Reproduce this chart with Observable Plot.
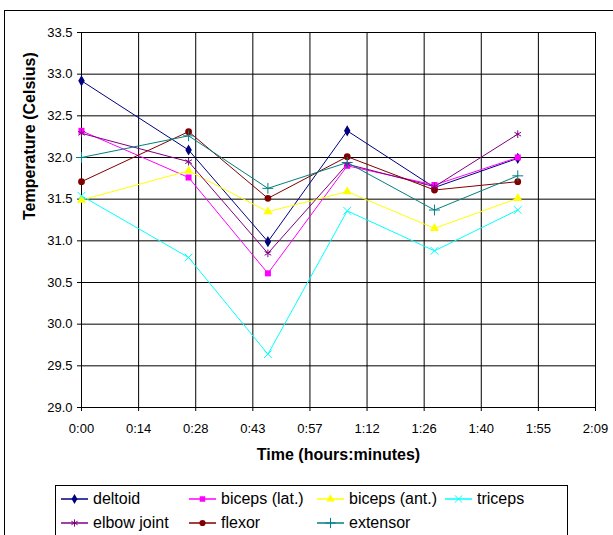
<!DOCTYPE html>
<html><head><meta charset="utf-8">
<script src="https://cdn.jsdelivr.net/npm/d3@7"></script>
<script src="https://cdn.jsdelivr.net/npm/@observablehq/plot@0.6"></script>
<style>
html,body{margin:0;padding:0;background:#fff;width:613px;height:535px;overflow:hidden;position:relative;font-family:"Liberation Sans",Arial,sans-serif;}
#frame{position:absolute;left:4px;top:10px;width:700px;height:600px;border:1px solid #000;box-sizing:border-box;}
#chart{position:absolute;left:0;top:0;}
#legend{position:absolute;left:55px;top:485px;width:513px;height:80px;border:1px solid #000;box-sizing:border-box;background:#fff;}
.item{position:absolute;height:24px;display:flex;align-items:center;font-size:16px;color:#000;white-space:nowrap;}
.item svg{margin-right:4px;}
</style>
</head><body>
<div id="frame"></div>
<div id="chart"></div>
<div id="legend"></div>
<script>
const seriesNames = ["deltoid","biceps (lat.)","biceps (ant.)","triceps","elbow joint","flexor","extensor"];
const timesMin = [0, 27, 47, 67, 89, 110];
const deltoid    = [32.92, 32.09, 30.99, 32.32, 31.64, 31.99];
const bicepsLat  = [32.32, 31.76, 30.61, 31.90, 31.67, 32.00];
const bicepsAnt  = [31.49, 31.84, 31.35, 31.59, 31.15, 31.51];
const triceps    = [31.54, 30.80, 29.64, 31.36, 30.88, 31.37];
const elbowJoint = [32.29, 31.95, 30.85, 31.92, 31.65, 32.28];
const flexor     = [31.71, 32.31, 31.51, 32.01, 31.61, 31.71];
const extensor   = [32.00, 32.26, 31.63, 31.94, 31.37, 31.78];
const seriesValues = [deltoid, bicepsLat, bicepsAnt, triceps, elbowJoint, flexor, extensor];
const colors  = ["#000080","#FF00FF","#FFFF00","#00FFFF","#800080","#800000","#008080"];
const symbols = ["diamond","square","triangle","times","asterisk","circle","plus"];
const filledSymbols = ["diamond","square","triangle","circle"];
const xTickValues = [0, 14.4, 28.8, 43.2, 57.6, 72, 86.4, 100.8, 115.2, 129.6];
const xTickLabels = ["0:00","0:14","0:28","0:43","0:57","1:12","1:26","1:40","1:55","2:09"];
const yTicks = [29.0, 29.5, 30.0, 30.5, 31.0, 31.5, 32.0, 32.5, 33.0, 33.5];
const xTitle = "Time (hours:minutes)";
const yTitle = "Temperature (Celsius)";

const rows = [];
seriesNames.forEach((s, i) => {
  timesMin.forEach((t, j) => rows.push({s, t, v: seriesValues[i][j], sym: symbols[i]}));
});

const chart = Plot.plot({
  width: 613, height: 470,
  marginLeft: 81, marginRight: 18, marginTop: 32, marginBottom: 63,
  style: {fontFamily: "'Liberation Sans', Arial, sans-serif", fontSize: "13px", color: "#000", background: "transparent"},
  x: {domain: [0, 129.6], label: null},
  y: {domain: [29, 33.5], label: null},
  color: {domain: seriesNames, range: colors},
  symbol: {domain: seriesNames, range: symbols},
  marks: [
    Plot.gridX(xTickValues, {stroke: "#000", strokeOpacity: 1, strokeWidth: 1}),
    Plot.gridY(yTicks, {stroke: "#000", strokeOpacity: 1, strokeWidth: 1}),
    Plot.axisX(xTickValues, {tickSize: 4, tickPadding: 12, tickFormat: (d, i) => xTickLabels[xTickValues.indexOf(d)], label: null}),
    Plot.axisY(yTicks, {tickSize: 4, tickPadding: 5, tickFormat: d => d.toFixed(1), label: null}),
    Plot.line(rows, {x: "t", y: "v", z: "s", stroke: "s", strokeWidth: 1}),
    Plot.dot(rows.filter(d => filledSymbols.includes(d.sym)), {x: "t", y: "v", symbol: "s", fill: "s", stroke: "none", r: 3.4}),
    Plot.dot(rows.filter(d => !filledSymbols.includes(d.sym)), {x: "t", y: "v", symbol: "s", stroke: "s", fill: "none", r: 3.6, strokeWidth: 1}),
    Plot.text([xTitle], {text: d => d, frameAnchor: "bottom", dy: 52, fontWeight: "bold", fontSize: 16, fill: "#000"}),
    Plot.text([yTitle], {text: d => d, frameAnchor: "left", dx: -52, rotate: -90, fontWeight: "bold", fontSize: 16, fill: "#000"})
  ]
});
document.getElementById("chart").appendChild(chart);

// legend
const symMap = {diamond: d3.symbolDiamond, square: d3.symbolSquare, triangle: d3.symbolTriangle, times: d3.symbolTimes, asterisk: d3.symbolAsterisk, circle: d3.symbolCircle, plus: d3.symbolPlus};
const legend = document.getElementById("legend");
seriesNames.forEach((s, i) => {
  const item = document.createElement("div");
  item.className = "item";
  item.style.left = (5 + (i % 4) * 128) + "px";
  item.style.top = (1 + Math.floor(i / 4) * 24) + "px";
  const svg = d3.create("svg").attr("width", 28).attr("height", 12);
  svg.append("line").attr("x1", 0).attr("x2", 27).attr("y1", 6).attr("y2", 6).attr("stroke", colors[i]).attr("stroke-width", 1.5);
  const filled = filledSymbols.includes(symbols[i]);
  svg.append("path").attr("transform", "translate(13.5,6)")
    .attr("d", d3.symbol(symMap[symbols[i]], filled ? 30 : 36)())
    .attr("fill", filled ? colors[i] : "none")
    .attr("stroke", filled ? "none" : colors[i]).attr("stroke-width", 1);
  item.appendChild(svg.node());
  const span = document.createElement("span");
  span.textContent = s;
  item.appendChild(span);
  legend.appendChild(item);
});
</script>
</body></html>
